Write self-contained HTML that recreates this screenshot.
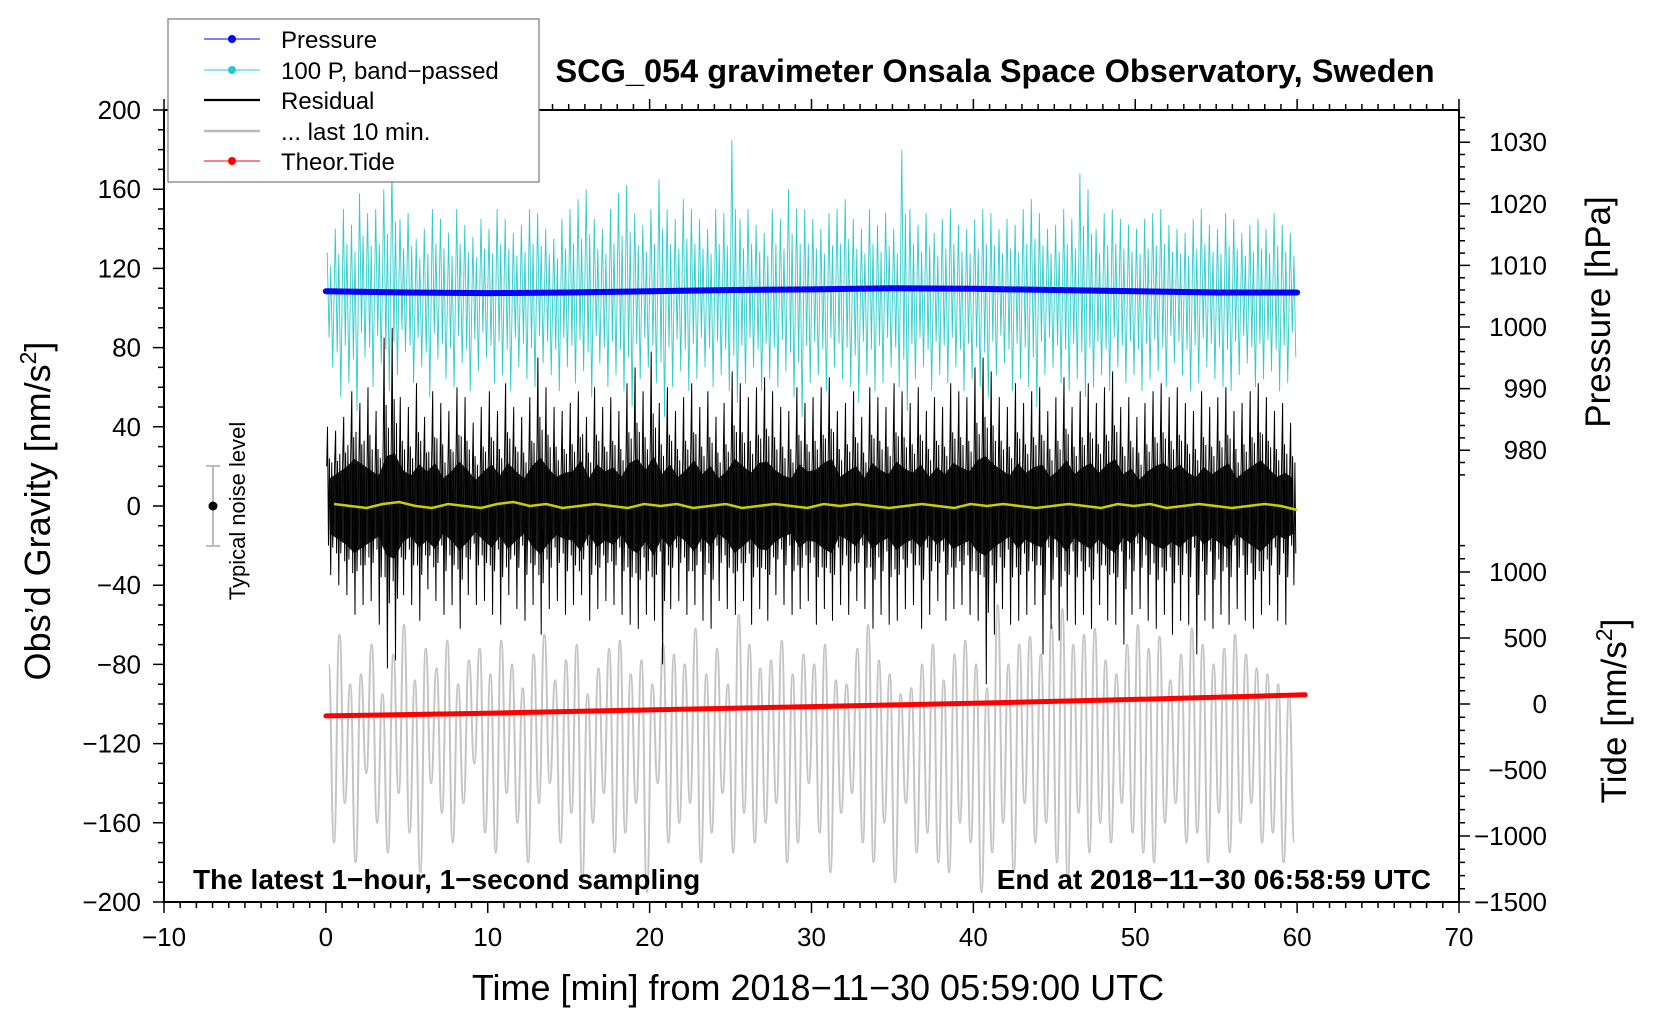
<!DOCTYPE html>
<html><head><meta charset="utf-8">
<style>
html,body{margin:0;padding:0;background:#fff;}
svg{display:block;font-family:"Liberation Sans",Arial,sans-serif;}
</style></head>
<body>
<svg id="chart" width="1660" height="1020" viewBox="0 0 1660 1020" xmlns="http://www.w3.org/2000/svg">
  <g id="series"></g>
  <g id="axes"></g>
  <text x="995" y="82" text-anchor="middle" font-size="32.5" font-weight="bold">SCG_054 gravimeter Onsala Space Observatory, Sweden</text>
  <text x="193" y="889" font-size="28" font-weight="bold">The latest 1−hour, 1−second sampling</text>
  <text x="1431" y="889" text-anchor="end" font-size="28" font-weight="bold">End at 2018−11−30 06:58:59 UTC</text>
  <text x="818" y="1000" text-anchor="middle" font-size="36">Time [min] from 2018−11−30 05:59:00 UTC</text>
  <text transform="translate(50,511) rotate(-90)" text-anchor="middle" font-size="36">Obs’d Gravity [nm/s<tspan dy="-14" font-size="23">2</tspan><tspan dy="14">]</tspan></text>
  <text transform="translate(1610,312) rotate(-90)" text-anchor="middle" font-size="35">Pressure [hPa]</text>
  <text transform="translate(1626,711) rotate(-90)" text-anchor="middle" font-size="35">Tide [nm/s<tspan dy="-14" font-size="23">2</tspan><tspan dy="14">]</tspan></text>
  <g>
    <line x1="213" y1="466" x2="213" y2="546" stroke="#bbb" stroke-width="2"/>
    <line x1="206" y1="466" x2="220" y2="466" stroke="#bbb" stroke-width="2"/>
    <line x1="206" y1="546" x2="220" y2="546" stroke="#bbb" stroke-width="2"/>
    <circle cx="213" cy="506" r="4.5" fill="#000"/>
    <text transform="translate(245,511) rotate(-90)" text-anchor="middle" font-size="22">Typical noise level</text>
  </g>
  <g>
    <rect x="168" y="19" width="371" height="163" fill="#fff" stroke="#777" stroke-width="1.2"/>
    <g>
      <line x1="204" y1="39" x2="260" y2="39" stroke="#0000ff" stroke-width="1"/><circle cx="232" cy="39" r="4" fill="#0000ff"/>
      <text x="281" y="48" font-size="24">Pressure</text></g>
    <g>
      <line x1="204" y1="70" x2="260" y2="70" stroke="#22cccc" stroke-width="1"/><circle cx="232" cy="70" r="4" fill="#22cccc"/>
      <text x="281" y="79" font-size="24">100 P, band−passed</text></g>
    <g>
      <line x1="204" y1="100" x2="260" y2="100" stroke="#000" stroke-width="2.2"/>
      <text x="281" y="109" font-size="24">Residual</text></g>
    <g>
      <line x1="204" y1="131" x2="260" y2="131" stroke="#bbb" stroke-width="2.5"/>
      <text x="281" y="140" font-size="24">... last 10 min.</text></g>
    <g>
      <line x1="204" y1="161" x2="260" y2="161" stroke="#ff0000" stroke-width="1"/><circle cx="232" cy="161" r="4" fill="#ff0000"/>
      <text x="281" y="170" font-size="24">Theor.Tide</text></g>
  </g>
</svg>
<script>
// ---- data ----
const resMax = [40,38,45,58,52,60,48,85,90,55,50,62,45,58,52,48,60,55,42,50,58,48,62,50,45,55,75,60,50,48,52,58,45,60,50,55,48,62,70,58,78,52,60,48,55,62,50,58,45,52,68,62,55,60,65,58,50,48,60,52,55,60,65,48,52,58,45,60,55,50,62,58,52,60,48,55,50,62,58,55,70,75,68,55,50,62,52,58,60,48,55,65,50,58,62,52,60,68,50,55,45,52,58,62,55,60,52,48,58,50,55,60,48,52,58,62,55,48,52,42];
const resMin = [-35,-40,-45,-55,-50,-48,-60,-82,-78,-45,-50,-58,-42,-48,-55,-50,-62,-45,-50,-48,-55,-60,-45,-52,-58,-50,-65,-52,-48,-55,-50,-45,-58,-52,-48,-50,-55,-60,-62,-55,-58,-80,-52,-48,-55,-50,-58,-62,-48,-52,-55,-48,-60,-52,-58,-45,-50,-55,-52,-48,-60,-52,-58,-50,-55,-48,-52,-62,-55,-60,-58,-52,-50,-62,-55,-48,-58,-52,-50,-55,-58,-90,-65,-52,-60,-58,-55,-50,-75,-62,-68,-58,-60,-55,-62,-50,-58,-60,-70,-55,-52,-58,-62,-55,-65,-58,-60,-75,-58,-62,-55,-60,-52,-58,-62,-55,-50,-58,-60,-40];
const resCoreHi = [20,24,28,34,30,26,22,36,38,26,22,30,25,31,20,25,32,26,19,25,30,22,31,25,20,29,35,27,21,24,25,33,20,30,25,28,21,31,34,26,36,23,30,21,26,33,23,29,20,25,34,29,24,31,32,26,22,20,30,25,26,31,34,21,25,29,20,31,26,23,32,27,24,30,21,28,23,31,28,25,33,36,30,26,22,31,24,28,30,21,26,33,23,28,31,24,30,34,23,27,19,25,29,31,26,30,24,21,28,23,27,31,20,25,29,33,27,21,24,20];
const cyanMax = [128,140,150,142,158,148,150,160,172,145,148,135,140,150,145,138,150,142,136,145,140,150,145,138,142,150,148,140,135,145,150,155,160,145,140,150,158,162,148,142,150,165,150,145,155,150,145,140,150,148,185,145,150,142,138,150,145,160,150,150,145,140,148,150,155,145,140,150,142,148,140,180,150,142,148,138,145,150,142,140,145,150,148,140,145,142,150,155,148,140,142,150,145,168,160,140,148,150,145,142,140,145,148,150,142,140,138,145,150,142,140,148,145,138,142,145,140,148,142,138];
const cyanMin = [70,55,62,48,75,60,72,58,66,78,62,70,55,74,64,60,72,58,68,75,62,66,58,70,64,60,72,66,58,70,62,68,55,72,60,66,58,50,64,70,62,45,60,68,58,64,70,60,66,58,52,62,70,58,64,60,68,55,45,62,66,58,70,64,60,52,66,58,62,70,60,48,64,70,58,66,62,70,58,64,60,55,66,72,58,64,60,50,66,70,62,58,64,55,60,66,58,70,62,66,58,64,68,60,72,66,58,62,70,64,60,58,66,72,60,64,68,58,62,75];
const grayPeak = [-80,-65,-90,-85,-70,-95,-75,-60,-88,-72,-82,-68,-90,-78,-72,-85,-68,-80,-92,-75,-65,-88,-78,-70,-95,-82,-72,-68,-85,-78,-90,-70,-75,-80,-62,-85,-72,-90,-55,-70,-82,-78,-68,-85,-75,-80,-70,-88,-90,-72,-60,-78,-85,-95,-92,-80,-70,-88,-75,-68,-80,-92,-50,-80,-70,-66,-75,-60,-52,-70,-65,-62,-78,-85,-70,-60,-72,-66,-88,-75,-62,-70,-80,-72,-65,-75,-82,-85,-90,-95];
const grayTrough = [-170,-150,-180,-135,-160,-175,-145,-165,-185,-140,-155,-170,-150,-130,-165,-175,-145,-160,-180,-150,-140,-170,-155,-190,-160,-145,-175,-165,-150,-195,-140,-170,-160,-150,-180,-165,-145,-175,-155,-170,-160,-150,-180,-170,-140,-165,-185,-155,-145,-170,-180,-160,-190,-150,-175,-165,-180,-185,-160,-170,-195,-175,-160,-185,-150,-170,-160,-180,-190,-155,-175,-160,-170,-150,-165,-175,-180,-160,-150,-170,-165,-180,-155,-175,-160,-150,-170,-165,-180,-170];
const presT = [0,5,10,15,20,25,30,35,40,45,50,55,60];
const presVal = [1005.8,1005.6,1005.5,1005.6,1005.8,1006.0,1006.1,1006.3,1006.2,1006.0,1005.8,1005.6,1005.6];
const tideT = [0,10,20,30,40,50,60.5];
const tideVal = [-90,-70,-45,-20,5,35,70];
const smoothVal = [1,0,-1,1,2,0,-1,1,0,-1,1,2,0,1,-1,0,1,0,-1,1,0,1,-1,0,1,-1,0,1,0,-1,1,0,1,0,-1,0,1,0,-1,1,0,1,0,-1,0,1,0,-1,1,0,1,-1,0,1,0,-1,0,1,0,-2];
const xTicks = [-10,0,10,20,30,40,50,60,70];
const yTicks = [-200,-160,-120,-80,-40,0,40,80,120,160,200];
const presTicks = [980,990,1000,1010,1020,1030];
const tideTicks = [-1500,-1000,-500,0,500,1000];

// ---- scales ----
const L=164,R=1459,T=110,B=902;
const sx = t => L + (t+10)*(R-L)/80;
const sy = g => 506 - g*(B-T)/400;
const sp = p => 327 - (p-1000)*6.16;
const st = v => 704 - v*0.132;

const NS="http://www.w3.org/2000/svg";
const ser=document.getElementById('series');
const ax=document.getElementById('axes');
function mk(tag, attrs, parent){const e=document.createElementNS(NS,tag);for(const k in attrs)e.setAttribute(k,attrs[k]);parent.appendChild(e);return e;}
const binT = i => (i+0.5)*0.5;

// gray last 10 min (smooth through extremes)
const gpts=[];
const nG=grayPeak.length;
for(let i=0;i<nG;i++){
  gpts.push([sx((i+0.25)*60/nG), sy(grayPeak[i])]);
  gpts.push([sx((i+0.75)*60/nG), sy(grayTrough[i])]);
}
let gd='M'+gpts[0][0].toFixed(1)+','+gpts[0][1].toFixed(1);
for(let i=1;i<gpts.length;i++){
  const a=gpts[i-1],b=gpts[i],mx=(a[0]+b[0])/2;
  gd+='C'+mx.toFixed(1)+','+a[1].toFixed(1)+' '+mx.toFixed(1)+','+b[1].toFixed(1)+' '+b[0].toFixed(1)+','+b[1].toFixed(1);
}
const gp=mk('path',{d:gd,fill:'none',stroke:'#c4c4c4','stroke-width':2},ser);



// cyan band-passed
let cd='';
for(let i=0;i<cyanMax.length;i++){
  const t0=i*0.5, a=cyanMax[i], b=cyanMin[i];
  cd += (i===0?'M':'L')+sx(t0+0.08).toFixed(1)+','+sy(a).toFixed(1);
  cd += 'L'+sx(t0+0.2).toFixed(1)+','+sy((b+100)/2).toFixed(1);
  cd += 'L'+sx(t0+0.3).toFixed(1)+','+sy((a+115)/2).toFixed(1);
  cd += 'L'+sx(t0+0.42).toFixed(1)+','+sy(b).toFixed(1);
}
const cp=mk('path',{d:cd,fill:'none',stroke:'#30cccc','stroke-width':0.9},ser);



// residual core fill
let rf='';
for(let i=0;i<resCoreHi.length;i++) rf += (i===0?'M':'L')+sx(binT(i)).toFixed(1)+','+sy(resCoreHi[i]*0.7).toFixed(1);
for(let i=resCoreHi.length-1;i>=0;i--) rf += 'L'+sx(binT(i)).toFixed(1)+','+sy(-resCoreHi[i]*0.7).toFixed(1);
rf+='Z';
const rc=mk('path',{d:rf,fill:'#1a1a1a'},ser);


// residual spikes
let rd='';
for(let i=0;i<resMax.length;i++){
  const t0=i*0.5, c=resCoreHi[i];
  rd += (i===0?'M':'L')+sx(t0+0.05).toFixed(1)+','+sy(c).toFixed(1);
  rd += 'L'+sx(t0+0.1).toFixed(1)+','+sy(resMax[i]).toFixed(1);
  rd += 'L'+sx(t0+0.16).toFixed(1)+','+sy(-c).toFixed(1);
  rd += 'L'+sx(t0+0.22).toFixed(1)+','+sy(resMax[i]*0.6).toFixed(1);
  rd += 'L'+sx(t0+0.3).toFixed(1)+','+sy(resMin[i]).toFixed(1);
  rd += 'L'+sx(t0+0.36).toFixed(1)+','+sy(c*1.1).toFixed(1);
  rd += 'L'+sx(t0+0.42).toFixed(1)+','+sy(resMin[i]*0.6).toFixed(1);
}
const rp=mk('path',{d:rd,fill:'none',stroke:'#000','stroke-width':1},ser);



// smoothed residual (yellow)
let yd='';
smoothVal.forEach((v,i)=>{yd+=(i===0?'M':'L')+sx(0.5+i*59.5/(smoothVal.length-1)).toFixed(1)+','+sy(v).toFixed(1);});
const yp=mk('path',{d:yd,fill:'none',stroke:'#cccc00','stroke-width':2.5},ser);



// pressure
let pd='';
presVal.forEach((v,i)=>{pd+=(i===0?'M':'L')+sx(presT[i]).toFixed(1)+','+sp(v).toFixed(1);});
const pp=mk('path',{d:pd,fill:'none',stroke:'#0000ff','stroke-width':6,'stroke-linecap':'round'},ser);



// tide
let td='';
tideVal.forEach((v,i)=>{td+=(i===0?'M':'L')+sx(tideT[i]).toFixed(1)+','+st(v).toFixed(1);});
const tp=mk('path',{d:td,fill:'none',stroke:'#ff0000','stroke-width':5,'stroke-linecap':'round'},ser);



// ---- axes ----
const frame=mk('rect',{x:L,y:T,width:R-L,height:B-T,fill:'none',stroke:'#000','stroke-width':2},ax);


let tk='';
for(let t=-10;t<=70;t++){const x=sx(t),len=(t%10===0)?11:6;tk+=`M${x},${B}v${len}M${x},${T}v${-len}`;}
for(let g=-200;g<=200;g+=10){const y=sy(g),len=(g%40===0)?11:6;tk+=`M${L},${y}h${-len}`;}
for(let p=976;p<=1034;p+=2){const y=sp(p),len=(p%10===0)?11:6;if(y>T&&y<B)tk+=`M${R},${y}h${len}`;}
for(let v=-1500;v<=1200;v+=100){const y=st(v),len=(v%500===0)?11:6;if(y>T&&y<=B)tk+=`M${R},${y}h${len}`;}
mk('path',{d:tk,stroke:'#000','stroke-width':1.5,fill:'none'},ax);
xTicks.forEach(t=>{const e=mk('text',{x:sx(t),y:946,'text-anchor':'middle','font-size':26},ax);e.textContent=String(t).replace('-','−');

});
yTicks.forEach(g=>{const e=mk('text',{x:141,y:sy(g)+9,'text-anchor':'end','font-size':26},ax);e.textContent=String(g).replace('-','−');

});
presTicks.forEach(p=>{const e=mk('text',{x:1547,y:sp(p)+9,'text-anchor':'end','font-size':26},ax);e.textContent=String(p);

});
tideTicks.forEach(v=>{const e=mk('text',{x:1547,y:st(v)+9,'text-anchor':'end','font-size':26},ax);e.textContent=String(v).replace('-','−');

});
</script>
</body></html>
